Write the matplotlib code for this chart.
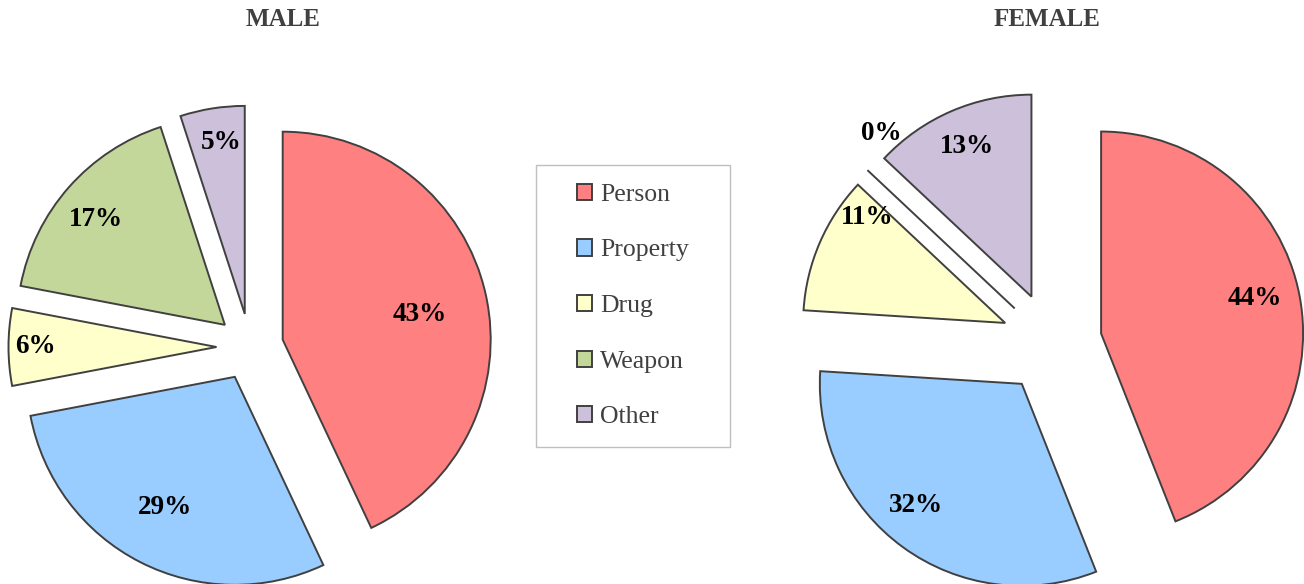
import numpy as np
import matplotlib.pyplot as plt
from matplotlib.patches import Rectangle

categories = ["Person", "Property", "Drug", "Weapon", "Other"]
male_pct = [43, 29, 6, 17, 5]
female_pct = [44, 32, 11, 0, 13]

colors = ["#FF8080", "#99CCFF", "#FFFFCC", "#C4D79B", "#CCC0DA"]
edge = "#404040"
serif = "Liberation Serif"

W, H = 1304, 584
fig = plt.figure(figsize=(W / 100, H / 100), dpi=100)
ax = fig.add_axes([0, 0, 1, 1])


def draw_pie(values, center, radius, explode, lab_r, lab_shift):
    # explode is in data units here (pixels), pie doesn't scale it by radius
    wedges, _ = ax.pie(values, colors=colors, startangle=90, counterclock=False,
                       center=center, radius=radius, explode=[explode] * len(values),
                       wedgeprops=dict(edgecolor=edge, linewidth=1.4))
    # excel-ish "best fit" labels: radius fraction + small clockwise shift per slice
    for w, v, r, s in zip(wedges, values, lab_r, lab_shift):
        ang = np.deg2rad((w.theta1 + w.theta2) / 2 - s)
        cx, cy = w.center
        ax.text(cx + r * radius * np.cos(ang), cy + r * radius * np.sin(ang), f"{v}%",
                ha="center", va="center", fontsize=19.5, fontweight="bold",
                family=serif, color="black")
    return wedges


male_w = draw_pie(male_pct, (250, H - 347), 208, 33.5,
                  [0.67, 0.71, 0.87, 0.80, 0.83], [2, 1, 0, -2, 1])
draw_pie(female_pct, (1051.5, H - 343), 202, 50.5,
         [0.78, 0.80, 0.86, 1.09, 0.81], [-2, 5, 14, 9.4, 0])

ax.set_xlim(0, W)
ax.set_ylim(0, H)
ax.axis("off")

for label, x in [("MALE", 283), ("FEMALE", 1047)]:
    fig.text(x / W, 1 - 19 / H, label, ha="center", va="center", fontsize=18,
             fontweight="bold", family=serif, color="#404040")

# legend frame drawn separately (padding differs horizontally / vertically)
ax.add_patch(Rectangle((536, H - 447), 194, 282, fill=False, edgecolor="#bfbfbf", lw=1))
fig.legend(male_w, categories, loc="center", bbox_to_anchor=(633 / W, 1 - 306 / H),
           frameon=False, prop=dict(family=serif, size=18.5), labelcolor="#404040",
           labelspacing=1.3, handlelength=0.6, handleheight=0.6, handletextpad=0.3)

fig.savefig("out.png", dpi=100)
